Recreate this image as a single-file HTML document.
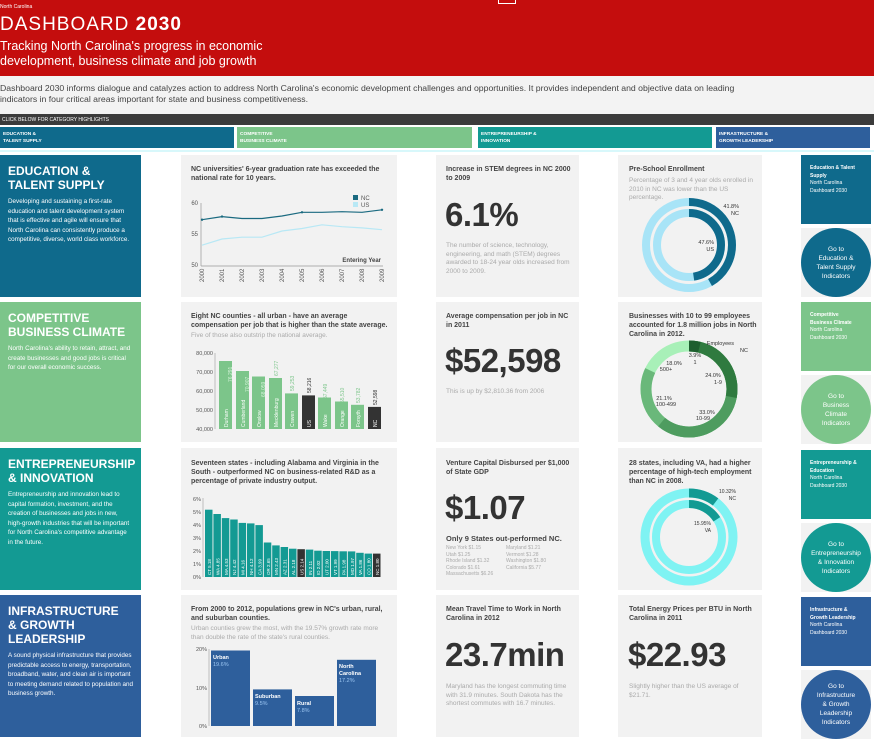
<!DOCTYPE html>
<html><head><meta charset="utf-8"><style>
*{margin:0;padding:0;box-sizing:border-box}
body{width:874px;height:748px;position:relative;overflow:hidden;background:#fff;font-family:"Liberation Sans",sans-serif;color:#333}
.a{position:absolute}
.card{position:absolute;background:#f2f2f2}
.t{position:absolute;font-size:7px;font-weight:bold;color:#444;line-height:9px}
.s{position:absolute;font-size:6.5px;color:#aaa;line-height:8.5px}
.big{position:absolute;font-size:33px;font-weight:bold;color:#333;letter-spacing:-0.5px}
.lp{position:absolute;left:0;width:141px;color:#fff;padding:9px 8px}
.lp h2{font-size:12px;line-height:14px;font-weight:bold;margin-bottom:5px}
.lp p{font-size:6.3px;line-height:9.5px}
.rr{position:absolute;left:801px;width:70px;height:69px;color:#fff;padding:10px 9px;font-size:5px;line-height:7.5px}
.rr b{display:block}
.cw{position:absolute;left:801px;width:70px;height:69px;background:#f2f2f2}
.cc{position:absolute;left:0;top:0;width:70px;height:69px;border-radius:50%;color:#fff;font-size:6.5px;line-height:9px;text-align:center;display:flex;align-items:center;justify-content:center}
.tab{position:absolute;top:127px;height:21px;color:#fff;font-size:4.8px;font-weight:bold;line-height:7px;padding:4px 3px}
</style></head><body>
<div class="a" style="left:0;top:0;width:874px;height:76px;background:#c40d0d"></div>
<div class="a" style="left:498px;top:0;width:18px;height:4px;border:1px solid #fff;border-top:none"></div>
<div class="a" style="left:0;top:4px;font-size:5px;color:#fff">North Carolina</div>
<div class="a" style="left:0;top:14px;font-size:19px;color:#fff;letter-spacing:1px">DASHBOARD <b>2030</b></div>
<div class="a" style="left:0;top:39px;font-size:12.5px;color:#fff;line-height:15px;font-weight:300">Tracking North Carolina's progress in economic<br>development, business climate and job growth</div>
<div class="a" style="left:0;top:76px;width:874px;height:38px;background:#f3f3f3"></div>
<div class="a" style="left:0;top:83px;font-size:8.7px;color:#444;line-height:11px;white-space:nowrap">Dashboard 2030 informs dialogue and catalyzes action to address North Carolina's economic development challenges and opportunities. It provides independent and objective data on leading<br>indicators in four critical areas important for state and business competitiveness.</div>
<div class="a" style="left:0;top:114px;width:874px;height:11px;background:#3b3b3b;color:#fff;font-size:5px;padding:3px 2px">CLICK BELOW FOR CATEGORY HIGHLIGHTS</div>
<div class="tab" style="left:0;width:234px;background:#0f6a8c">EDUCATION &amp;<br>TALENT SUPPLY</div>
<div class="tab" style="left:237px;width:235px;background:#7cc58a">COMPETITIVE<br>BUSINESS CLIMATE</div>
<div class="tab" style="left:478px;width:234px;background:#139a93">ENTREPRENEURSHIP &amp;<br>INNOVATION</div>
<div class="tab" style="left:716px;width:154px;background:#2e5f9c">INFRASTRUCTURE &amp;<br>GROWTH LEADERSHIP</div>
<div class="a" style="left:0;top:150px;width:874px;height:2px;background:#d8f8fb"></div>

<div class="lp" style="top:155px;height:142px;background:#0f6a8c"><h2>EDUCATION &amp;<br>TALENT SUPPLY</h2><p>Developing and sustaining a first-rate education and talent development system that is effective and agile will ensure that North Carolina can consistently produce a competitive, diverse, world class workforce.</p></div>
<div class="lp" style="top:302px;height:140px;background:#7cc58a"><h2>COMPETITIVE<br>BUSINESS CLIMATE</h2><p>North Carolina's ability to retain, attract, and create businesses and good jobs is critical for our overall economic success.</p></div>
<div class="lp" style="top:448px;height:142px;background:#139a93"><h2>ENTREPRENEURSHIP<br>&amp; INNOVATION</h2><p>Entrepreneurship and innovation lead to capital formation, investment, and the creation of businesses and jobs in new, high-growth industries that will be important for North Carolina's competitive advantage in the future.</p></div>
<div class="lp" style="top:595px;height:142px;background:#2e5f9c"><h2>INFRASTRUCTURE<br>&amp; GROWTH<br>LEADERSHIP</h2><p>A sound physical infrastructure that provides predictable access to energy, transportation, broadband, water, and clean air is important to meeting demand related to population and business growth.</p></div>

<div class="card" style="left:181px;top:155px;width:216px;height:142px"></div>
<div class="card" style="left:436px;top:155px;width:143px;height:142px"></div>
<div class="card" style="left:618px;top:155px;width:144px;height:142px"></div>
<div class="card" style="left:181px;top:302px;width:216px;height:140px"></div>
<div class="card" style="left:436px;top:302px;width:143px;height:140px"></div>
<div class="card" style="left:618px;top:302px;width:144px;height:140px"></div>
<div class="card" style="left:181px;top:448px;width:216px;height:142px"></div>
<div class="card" style="left:436px;top:448px;width:143px;height:142px"></div>
<div class="card" style="left:618px;top:448px;width:144px;height:142px"></div>
<div class="card" style="left:181px;top:595px;width:216px;height:142px"></div>
<div class="card" style="left:436px;top:595px;width:143px;height:142px"></div>
<div class="card" style="left:618px;top:595px;width:144px;height:142px"></div>

<div class="t" style="left:191px;top:165px;width:200px">NC universities' 6-year graduation rate has exceeded the national rate for 10 years.</div>
<div class="t" style="left:446px;top:165px;width:125px">Increase in STEM degrees in NC 2000 to 2009</div>
<div class="big" style="left:445px;top:196px">6.1%</div>
<div class="s" style="left:446px;top:242px;width:125px">The number of science, technology, engineering, and math (STEM) degrees awarded to 18-24 year olds increased from 2000 to 2009.</div>
<div class="t" style="left:629px;top:165px">Pre-School Enrollment</div>
<div class="s" style="left:629px;top:177px;width:128px">Percentage of 3 and 4 year olds enrolled in 2010 in NC was lower than the US percentage.</div>

<div class="t" style="left:191px;top:312px;width:200px">Eight NC counties - all urban - have an average compensation per job that is higher than the state average.</div>
<div class="s" style="left:191px;top:332px">Five of those also outstrip the national average.</div>
<div class="t" style="left:446px;top:312px;width:128px">Average compensation per job in NC in 2011</div>
<div class="big" style="left:445px;top:342px">$52,598</div>
<div class="s" style="left:446px;top:388px">This is up by $2,810.36 from 2006</div>
<div class="t" style="left:629px;top:312px;width:130px">Businesses with 10 to 99 employees accounted for 1.8 million jobs in North Carolina in 2012.</div>

<div class="t" style="left:191px;top:459px;width:200px">Seventeen states - including Alabama and Virginia in the South - outperformed NC on business-related R&amp;D as a percentage of private industry output.</div>
<div class="t" style="left:446px;top:459px;width:130px">Venture Capital Disbursed per $1,000 of State GDP</div>
<div class="big" style="left:445px;top:489px">$1.07</div>
<div class="t" style="left:446px;top:534px;font-size:7.5px">Only 9 States out-performed NC.</div>
<div class="s" style="left:446px;top:545px;font-size:5px;line-height:6.5px">New York $1.15<br>Utah $1.25<br>Rhode Island $1.32<br>Colorado $1.61<br>Massachusetts $6.26</div>
<div class="s" style="left:506px;top:545px;font-size:5px;line-height:6.5px">Maryland $1.21<br>Vermont $1.28<br>Washington $1.80<br>California $5.77</div>
<div class="t" style="left:629px;top:459px;width:130px">28 states, including VA, had a higher percentage of high-tech employment than NC in 2008.</div>

<div class="t" style="left:191px;top:605px;width:200px">From 2000 to 2012, populations grew in NC's urban, rural, and suburban counties.</div>
<div class="s" style="left:191px;top:625px;width:200px">Urban counties grew the most, with the 19.57% growth rate more than double the rate of the state's rural counties.</div>
<div class="t" style="left:446px;top:605px;width:128px">Mean Travel Time to Work in North Carolina in 2012</div>
<div class="big" style="left:445px;top:636px">23.7min</div>
<div class="s" style="left:446px;top:683px;width:128px">Maryland has the longest commuting time with 31.9 minutes. South Dakota has the shortest commutes with 16.7 minutes.</div>
<div class="t" style="left:629px;top:605px;width:128px">Total Energy Prices per BTU in North Carolina in 2011</div>
<div class="big" style="left:628px;top:636px">$22.93</div>
<div class="s" style="left:629px;top:683px;width:125px">Slightly higher than the US average of $21.71.</div>

<div class="rr" style="top:155px;background:#0f6a8c"><b>Education &amp; Talent Supply</b>North Carolina<br>Dashboard 2030</div>
<div class="cw" style="top:228px"><div class="cc" style="background:#0f6a8c">Go to<br>Education &amp;<br>Talent Supply<br>Indicators</div></div>
<div class="rr" style="top:302px;background:#7cc58a"><b>Competitive Business Climate</b>North Carolina<br>Dashboard 2030</div>
<div class="cw" style="top:375px"><div class="cc" style="background:#7cc58a">Go to<br>Business<br>Climate<br>Indicators</div></div>
<div class="rr" style="top:450px;background:#139a93"><b>Entrepreneurship &amp; Education</b>North Carolina<br>Dashboard 2030</div>
<div class="cw" style="top:523px"><div class="cc" style="background:#139a93">Go to<br>Entrepreneurship<br>&amp; Innovation<br>Indicators</div></div>
<div class="rr" style="top:597px;background:#2e5f9c"><b>Infrastructure &amp; Growth Leadership</b>North Carolina<br>Dashboard 2030</div>
<div class="cw" style="top:670px"><div class="cc" style="background:#2e5f9c">Go to<br>Infrastructure<br>&amp; Growth<br>Leadership<br>Indicators</div></div>

<svg class="a" style="left:0;top:0" width="874" height="748" font-family="Liberation Sans, sans-serif">
<g font-size="6" fill="#555">
<line x1="201" y1="203" x2="201" y2="266" stroke="#999" stroke-width="0.7"/>
<line x1="201" y1="266" x2="383" y2="266" stroke="#999" stroke-width="0.7"/>
<text x="198" y="205" text-anchor="end">60</text><text x="198" y="236" text-anchor="end">55</text><text x="198" y="267" text-anchor="end">50</text>
<polyline fill="none" stroke="#b8e8f5" stroke-width="1.2" points="202,245.2 222,239 242,237.2 262,237.2 282,231 302,228.5 322,224.8 342,226.7 362,227.9 382,229.7"/>
<polyline fill="none" stroke="#1a6a80" stroke-width="1.2" points="202,219.7 222,216.6 242,218.5 262,218.5 282,216 302,212.3 322,212.3 342,211.7 362,212.3 382,209.8"/>
<g fill="#1a6a80"><circle cx="202" cy="219.7" r="1.2"/><circle cx="222" cy="216.6" r="1.2"/><circle cx="302" cy="212.3" r="1.2"/><circle cx="382" cy="209.8" r="1.2"/></g>
<rect x="353" y="195" width="5" height="5" fill="#1a6a80"/><text x="361" y="200">NC</text>
<rect x="353" y="202" width="5" height="5" fill="#b8e8f5"/><text x="361" y="207">US</text>
<text x="381" y="262" text-anchor="end" font-weight="bold" fill="#444">Entering Year</text>
<text transform="translate(204,282) rotate(-90)">2000</text><text transform="translate(224,282) rotate(-90)">2001</text><text transform="translate(244,282) rotate(-90)">2002</text><text transform="translate(264,282) rotate(-90)">2003</text><text transform="translate(284,282) rotate(-90)">2004</text><text transform="translate(304,282) rotate(-90)">2005</text><text transform="translate(324,282) rotate(-90)">2006</text><text transform="translate(344,282) rotate(-90)">2007</text><text transform="translate(364,282) rotate(-90)">2008</text><text transform="translate(384,282) rotate(-90)">2009</text>
</g>
<g font-size="5.5" fill="#555">
<text x="213" y="355" text-anchor="end">80,000</text><text x="213" y="374" text-anchor="end">70,000</text><text x="213" y="393" text-anchor="end">60,000</text><text x="213" y="412" text-anchor="end">50,000</text><text x="213" y="431" text-anchor="end">40,000</text>
<line x1="215" y1="353" x2="215" y2="429" stroke="#999" stroke-width="0.6"/>
<g fill="#7cc58a">
<rect x="219" y="361" width="13" height="68"/><rect x="236" y="371" width="13" height="58"/><rect x="252" y="376.5" width="13" height="52.5"/><rect x="269" y="378" width="13" height="51"/><rect x="285" y="393.4" width="13" height="35.6"/>
<rect x="318" y="397.5" width="13" height="31.5"/><rect x="335" y="401.5" width="13" height="27.5"/><rect x="351" y="404.8" width="13" height="24.2"/>
</g>
<rect x="302" y="395.4" width="13" height="33.6" fill="#333"/><rect x="368" y="406.9" width="13" height="22.1" fill="#333"/>
<g fill="#fff" font-size="5">
<text transform="translate(228,427) rotate(-90)">Durham</text><text transform="translate(245,427) rotate(-90)">Cumberland</text><text transform="translate(261,427) rotate(-90)">Onslow</text><text transform="translate(278,427) rotate(-90)">Mecklenburg</text><text transform="translate(294,427) rotate(-90)">Craven</text><text transform="translate(311,427) rotate(-90)">US</text><text transform="translate(327,427) rotate(-90)">Wake</text><text transform="translate(344,427) rotate(-90)">Orange</text><text transform="translate(360,427) rotate(-90)">Forsyth</text><text transform="translate(377,427) rotate(-90)">NC</text>
</g>
</g>
<g font-size="5.5" fill="#555">
<text x="201" y="501" text-anchor="end">6%</text><text x="201" y="514" text-anchor="end">5%</text><text x="201" y="527" text-anchor="end">4%</text><text x="201" y="540" text-anchor="end">3%</text><text x="201" y="553" text-anchor="end">2%</text><text x="201" y="566" text-anchor="end">1%</text><text x="201" y="579" text-anchor="end">0%</text>
<line x1="203" y1="498" x2="203" y2="577" stroke="#999" stroke-width="0.6"/>
<g fill="#139a93">
<rect x="205" y="509.7" width="7.5" height="67.3"/><rect x="213.4" y="514" width="7.5" height="63"/><rect x="221.8" y="518.1" width="7.5" height="58.9"/><rect x="230.2" y="519.5" width="7.5" height="57.5"/><rect x="238.6" y="522.9" width="7.5" height="54.1"/><rect x="247" y="523.4" width="7.5" height="53.6"/><rect x="255.4" y="525.1" width="7.5" height="51.9"/><rect x="263.8" y="542.5" width="7.5" height="34.5"/><rect x="272.2" y="545.4" width="7.5" height="31.6"/><rect x="280.6" y="547" width="7.5" height="30"/><rect x="289" y="548.7" width="7.5" height="28.3"/>
<rect x="305.8" y="549.6" width="7.5" height="27.4"/><rect x="314.2" y="550.7" width="7.5" height="26.3"/><rect x="322.6" y="551" width="7.5" height="26"/><rect x="331" y="551.1" width="7.5" height="25.9"/><rect x="339.4" y="551.3" width="7.5" height="25.7"/><rect x="347.8" y="551.4" width="7.5" height="25.6"/><rect x="356.2" y="552.8" width="7.5" height="24.2"/><rect x="364.6" y="553.6" width="7.5" height="23.4"/>
</g>
<rect x="297.4" y="549.2" width="7.5" height="27.8" fill="#333"/><rect x="373" y="553.6" width="7.5" height="23.4" fill="#333"/>
</g>
<g font-size="5.5">
<g fill="#555"><text x="207" y="651" text-anchor="end">20%</text><text x="207" y="690" text-anchor="end">10%</text><text x="207" y="728" text-anchor="end">0%</text></g>
<line x1="209" y1="649" x2="209" y2="726" stroke="#999" stroke-width="0.6"/>
<g fill="#2e5f9c"><rect x="211" y="650.5" width="39" height="75.5"/><rect x="253" y="689.4" width="39" height="36.6"/><rect x="295" y="696" width="39" height="30"/><rect x="337" y="659.8" width="39" height="66.2"/></g>
<g fill="#fff" font-weight="bold"><text x="213" y="659">Urban</text><text x="255" y="698">Suburban</text><text x="297" y="705">Rural</text><text x="339" y="668">North</text><text x="339" y="675">Carolina</text></g>
<g fill="#9cc6f2"><text x="213" y="666">19.6%</text><text x="255" y="705">9.5%</text><text x="297" y="712">7.8%</text><text x="339" y="682">17.2%</text></g>
</g>
<g fill="none">
<circle cx="689" cy="245" r="43" stroke="#a8e4f7" stroke-width="8"/>
<circle cx="689" cy="245" r="43" stroke="#0f6a8c" stroke-width="8" stroke-dasharray="112.9 400" transform="rotate(-90 689 245)"/>
<circle cx="689" cy="245" r="32" stroke="#a8e4f7" stroke-width="8"/>
<circle cx="689" cy="245" r="32" stroke="#0f6a8c" stroke-width="8" stroke-dasharray="95.7 400" transform="rotate(-90 689 245)"/>
</g>
<g font-size="5.5" fill="#333" text-anchor="end"><text x="739" y="208">41.8%</text><text x="739" y="215">NC</text><text x="714" y="244">47.6%</text><text x="714" y="251">US</text></g>
<g fill="none" stroke-width="11" transform="rotate(-90 689 389)">
<circle cx="689" cy="389" r="43" stroke="#a8f0b8"/>
<circle cx="689" cy="389" r="43" stroke="#6ab87a" stroke-dasharray="221.5 400"/>
<circle cx="689" cy="389" r="43" stroke="#4e9c5f" stroke-dasharray="164.5 400"/>
<circle cx="689" cy="389" r="43" stroke="#2f7a3f" stroke-dasharray="75.4 400"/>
<circle cx="689" cy="389" r="43" stroke="#1d5e2e" stroke-dasharray="10.5 400"/>
</g>
<g font-size="5.5" fill="#333" text-anchor="middle"><text x="734" y="345" text-anchor="end">Employees</text><text x="748" y="352" text-anchor="end">NC</text><text x="695" y="357">3.9%</text><text x="695" y="364">1</text><text x="674" y="365">18.0%</text><text x="666" y="371">500+</text><text x="713" y="377">24.0%</text><text x="718" y="384">1-9</text><text x="664" y="400">21.1%</text><text x="666" y="406">100-499</text><text x="707" y="414">33.0%</text><text x="703" y="420">10-99</text></g>
<g fill="none">
<circle cx="689" cy="537" r="44" stroke="#7ff3f3" stroke-width="9"/>
<circle cx="689" cy="537" r="44" stroke="#139a93" stroke-width="9" stroke-dasharray="28.5 400" transform="rotate(-90 689 537)"/>
<circle cx="689" cy="537" r="33" stroke="#7ff3f3" stroke-width="8"/>
<circle cx="689" cy="537" r="33" stroke="#139a93" stroke-width="8" stroke-dasharray="33.1 400" transform="rotate(-90 689 537)"/>
</g>
<g font-size="5" fill="#333" text-anchor="end"><text x="736" y="493">10.32%</text><text x="736" y="500">NC</text><text x="711" y="525">15.95%</text><text x="711" y="532">VA</text></g>
</svg>
<svg class="a" style="left:0;top:0;pointer-events:none" width="874" height="748" font-family="Liberation Sans, sans-serif" font-size="5">
<g fill="#d8f5dc">
<text transform="translate(232,382) rotate(-90)">76,291</text><text transform="translate(249,392) rotate(-90)">70,907</text><text transform="translate(265,397) rotate(-90)">68,059</text><text transform="translate(278,376) rotate(-90)" fill="#7cc58a">67,277</text><text transform="translate(294,391) rotate(-90)" fill="#7cc58a">59,253</text><text transform="translate(311,393) rotate(-90)" fill="#333">58,216</text><text transform="translate(327,399) rotate(-90)" fill="#7cc58a">57,449</text><text transform="translate(344,403) rotate(-90)" fill="#7cc58a">55,510</text><text transform="translate(360,403) rotate(-90)" fill="#7cc58a">53,782</text><text transform="translate(377,405) rotate(-90)" fill="#333">52,598</text>
</g>
<g fill="#fff" font-size="4.5">
<text transform="translate(211,575) rotate(-90)">CT 5.18</text><text transform="translate(219.4,575) rotate(-90)">WA 4.85</text><text transform="translate(227.8,575) rotate(-90)">MA 4.53</text><text transform="translate(236.2,575) rotate(-90)">NJ 4.42</text><text transform="translate(244.6,575) rotate(-90)">MI 4.16</text><text transform="translate(253,575) rotate(-90)">NH 4.12</text><text transform="translate(261.4,575) rotate(-90)">CA 3.99</text><text transform="translate(269.8,575) rotate(-90)">OR 2.65</text><text transform="translate(278.2,575) rotate(-90)">MN 2.43</text><text transform="translate(286.6,575) rotate(-90)">AZ 2.31</text><text transform="translate(295,575) rotate(-90)">AL 2.18</text><text transform="translate(303.4,575) rotate(-90)">US 2.14</text><text transform="translate(311.8,575) rotate(-90)">IN 2.11</text><text transform="translate(320.2,575) rotate(-90)">ID 2.02</text><text transform="translate(328.6,575) rotate(-90)">UT 2.00</text><text transform="translate(337,575) rotate(-90)">VT 1.99</text><text transform="translate(345.4,575) rotate(-90)">PA 1.98</text><text transform="translate(353.8,575) rotate(-90)">MD 1.97</text><text transform="translate(362.2,575) rotate(-90)">VA 1.86</text><text transform="translate(370.6,575) rotate(-90)">CO 1.80</text><text transform="translate(379,575) rotate(-90)">NC 1.80</text>
</g>
</svg>
</body></html>
